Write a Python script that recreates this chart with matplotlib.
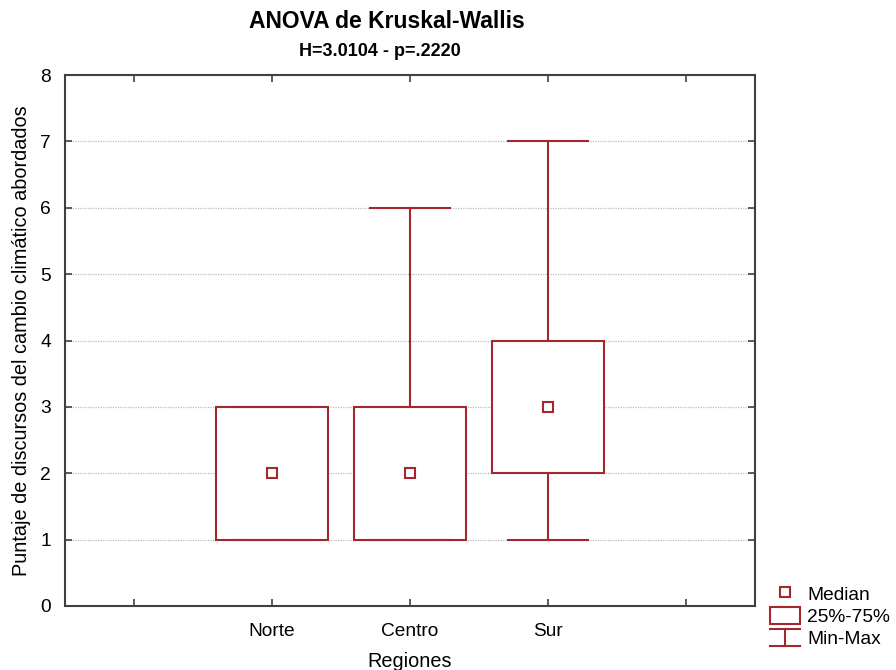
import matplotlib
matplotlib.use("Agg")
import matplotlib.pyplot as plt
from matplotlib.legend_handler import HandlerBase
from matplotlib.lines import Line2D
from matplotlib.patches import Rectangle

plt.rcParams['font.family'] = ['Liberation Sans', 'DejaVu Sans']

categories = ["Norte", "Centro", "Sur"]
mins = [1, 1, 1]
q1s = [1, 1, 2]
medians = [2, 2, 3]
q3s = [3, 3, 4]
maxs = [3, 6, 7]

title = "ANOVA de Kruskal-Wallis"
subtitle = "H=3.0104 - p=.2220"
xlabel = "Regiones"
ylabel = "Puntaje de discursos del cambio climático abordados"

color = '#a3282b'
fs = 13.8
lfs = 14.3

fig = plt.figure(figsize=(8.96, 6.70), dpi=100)
ax = fig.add_axes([65/896, 1-606/670, 690/896, 531/670])

stats = []
for c, lo, a, m, b, hi in zip(categories, mins, q1s, medians, q3s, maxs):
    stats.append(dict(label=c, whislo=lo, q1=a, med=m, q3=b, whishi=hi, mean=m, fliers=[]))

positions = [1, 2, 3]
ax.bxp(stats, positions=positions, widths=0.81, capwidths=0.58, patch_artist=True,
       showmeans=True, showfliers=False, manage_ticks=False,
       boxprops=dict(facecolor='white', edgecolor=color, linewidth=1.5),
       whiskerprops=dict(color=color, linewidth=1.5),
       capprops=dict(color=color, linewidth=1.5),
       medianprops=dict(visible=False),
       meanprops=dict(marker='s', markersize=7, markerfacecolor='white',
                      markeredgecolor=color, markeredgewidth=1.5))

ax.set_xlim(-0.5, 4.5)
ax.set_ylim(0, 8)
ax.set_xticks([0, 1, 2, 3, 4])
ax.set_xticklabels([""] + categories + [""])
ax.set_yticks(range(0, 9))
ax.grid(axis='y', linestyle=(0, (1, 1)), color='#bdbdbd', linewidth=0.9, zorder=0)
ax.set_axisbelow(True)
ax.tick_params(direction='in', top=True, right=True, length=5, width=1.2,
               labelsize=fs, color='#404040')
ax.tick_params(axis='x', pad=12)
ax.tick_params(axis='y', pad=10)
for s in ax.spines.values():
    s.set_color('#404040')
    s.set_linewidth(1.5)

ax.set_xlabel(xlabel, fontsize=lfs, labelpad=9)
ax.set_ylabel(ylabel, fontsize=lfs, labelpad=7)

fig.text(387/896, 1-22/670, title, ha='center', va='center', fontsize=16.5, fontweight='bold')
fig.text(380/896, 1-52/670, subtitle, ha='center', va='center', fontsize=13, fontweight='bold')


class MinMaxHandler(HandlerBase):
    def create_artists(self, legend, orig_handle, xdescent, ydescent, width, height, fontsize, trans):
        cx = width / 2 - xdescent
        x0, x1 = -xdescent, width - xdescent
        y0, y1 = -ydescent, height - ydescent
        arts = [Line2D([x0, x1], [y1, y1]), Line2D([cx, cx], [y0, y1]), Line2D([x0, x1], [y0, y0])]
        for a in arts:
            a.set_color(color)
            a.set_linewidth(1.5)
            a.set_transform(trans)
        return arts


class BoxHandler(HandlerBase):
    def create_artists(self, legend, orig_handle, xdescent, ydescent, width, height, fontsize, trans):
        r = Rectangle((-xdescent, -ydescent), width, height, facecolor='white',
                      edgecolor=color, linewidth=1.5, transform=trans)
        return [r]


class MinMax:
    pass


class Box:
    pass


med_handle = Line2D([], [], linestyle='none', marker='s', markersize=7, markerfacecolor='white',
                    markeredgecolor=color, markeredgewidth=1.5)
fig.legend([med_handle, Box(), MinMax()], ["Median", "25%-75%", "Min-Max"],
           handler_map={MinMax: MinMaxHandler(), Box: BoxHandler()},
           loc='lower left', bbox_to_anchor=(770/896, 1-648/670), frameon=False,
           fontsize=fs, handlelength=1.55, handleheight=1.0, handletextpad=0.4,
           labelspacing=0.15, borderaxespad=0, borderpad=0)

fig.savefig("out.png", dpi=100)
